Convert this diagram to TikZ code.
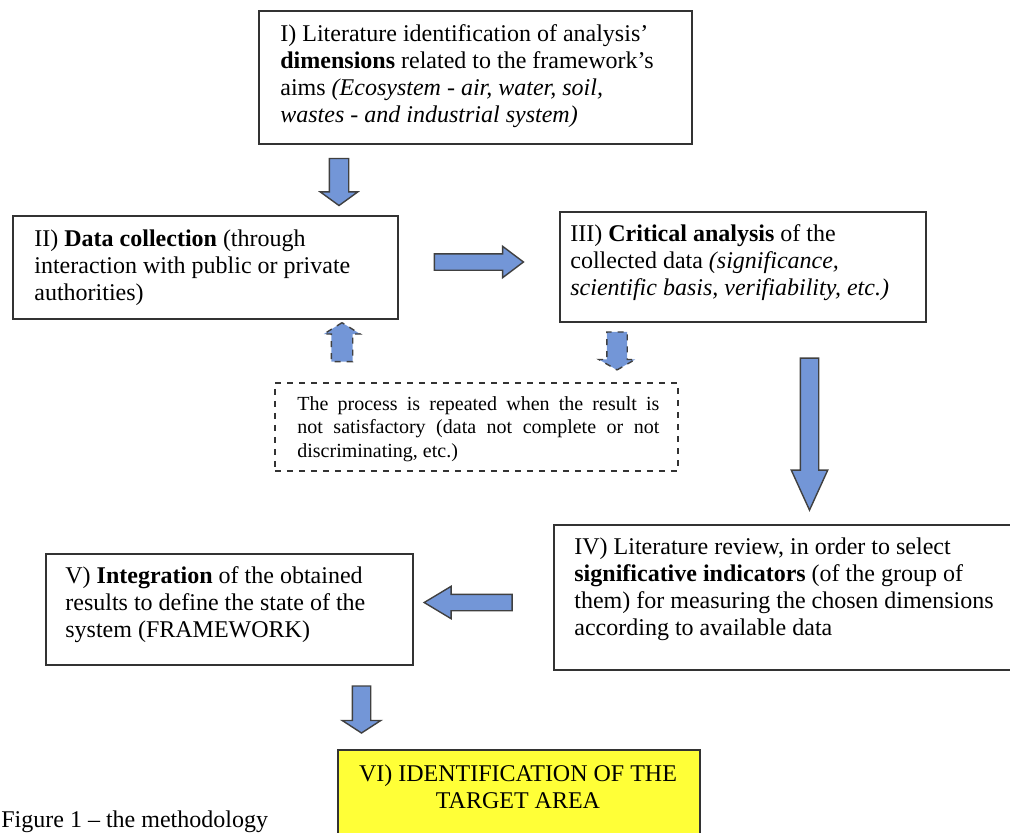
\documentclass[tikz,border=0pt]{standalone}
\usepackage{fontspec}
\setmainfont{Liberation Serif}[ItalicFont={Liberation Serif Italic}, BoldFont={Liberation Serif Bold}]
\usepackage{tikz}
\usetikzlibrary{shapes.arrows,positioning}

\definecolor{arrowblue}{RGB}{115,150,215}
\definecolor{targetyellow}{RGB}{255,255,55}

\begin{document}
\begin{tikzpicture}[
    x=0.5pt, y=-0.5pt,
    frame/.style={draw=black!80, line width=0.8pt, anchor=north west, inner sep=0pt},
    txt/.style={anchor=base west, align=left, inner sep=0pt, font=\fontsize{12}{13.4}\selectfont},
    blockarr/.style={single arrow, draw=black!75, line width=0.7pt, fill=arrowblue, inner xsep=0pt, single arrow head indent=0pt}
]
    \useasboundingbox (0,0) rectangle (1010,832);

    % boxes
    \node[frame, minimum width=216.5pt, minimum height=66.5pt] (dims) at (258,10) {};
    \node[frame, minimum width=192.5pt, minimum height=51.5pt] (collect) at (12,215) {};
    \node[frame, minimum width=183pt, minimum height=55pt] (critic) at (559,211) {};
    \node[frame, dashed, minimum width=201.5pt, minimum height=44pt] (loopnote) at (274,382) {};
    \node[frame, minimum width=235pt, minimum height=72.5pt] (indic) at (553,524) {};
    \node[frame, minimum width=183.5pt, minimum height=55.5pt] (integ) at (45,553) {};
    \node[frame, fill=targetyellow, minimum width=181pt, minimum height=60pt] (target) at (337,749) {};

    % texts (base = last line)
    \node[txt] (dimstxt) at (280,122) {I) Literature identification of analysis’\\
        \textbf{dimensions} related to the framework’s\\
        aims \textit{(Ecosystem - air, water, soil,}\\
        \textit{wastes - and industrial system)}};
    \node[txt] (collecttxt) at (34,300) {II) \textbf{Data collection} (through\\
        interaction with public or private\\
        authorities)};
    \node[txt] (critictxt) at (570,295) {III) \textbf{Critical analysis} of the\\
        collected data \textit{(significance,}\\
        \textit{scientific basis, verifiability, etc.)}};
    \node[anchor=base west, align=justify, text width=181pt, inner sep=0pt,
        font=\fontsize{10}{11.8}\selectfont] (looptxt) at (297,410)
        {The process is repeated when the result is\linebreak
        not satisfactory (data not complete or not\linebreak
        discriminating, etc.)};
    \node[txt] (indictxt) at (574,635) {IV) Literature review, in order to select\\
        \textbf{significative indicators} (of the group of\\
        them) for measuring the chosen dimensions\\
        according to available data};
    \node[txt] (integtxt) at (65,637) {V) \textbf{Integration} of the obtained\\
        results to define the state of the\\
        system (FRAMEWORK)};
    \node[txt, anchor=base, align=center] (targettxt) at (518,808) {VI) IDENTIFICATION OF THE\\
        TARGET AREA};
    \node[txt] (caption) at (1,827) {Figure 1 – the methodology};

    % block arrows
    \node[blockarr, rotate=-90, inner ysep=4.5pt, minimum height=23.5pt,
        single arrow head extend=4.5pt, single arrow tip angle=108] (a1) at (339,178.5) {};
    \node[blockarr, inner ysep=3.75pt, minimum height=44.5pt,
        single arrow head extend=3.75pt, single arrow tip angle=74] (a2) at (473.5,262) {};
    \node[blockarr, dashed, rotate=90, inner ysep=5pt, minimum height=19.5pt,
        single arrow head extend=3.75pt, single arrow tip angle=116] (a3) at (342,345.5) {};
    \node[blockarr, dashed, rotate=-90, inner ysep=4.75pt, minimum height=19pt,
        single arrow head extend=4pt, single arrow tip angle=120] (a4) at (617,348) {};
    \node[blockarr, rotate=-90, inner ysep=4.25pt, minimum height=76pt,
        single arrow head extend=4.5pt, single arrow tip angle=49] (a5) at (809.5,424) {};
    \node[blockarr, rotate=180, inner ysep=3.75pt, minimum height=44pt,
        single arrow head extend=4pt, single arrow tip angle=62] (a6) at (475,602.5) {};
    \node[blockarr, rotate=-90, inner ysep=4.25pt, minimum height=23.5pt,
        single arrow head extend=5pt, single arrow tip angle=114] (a7) at (361.5,706.5) {};
\end{tikzpicture}
\end{document}
